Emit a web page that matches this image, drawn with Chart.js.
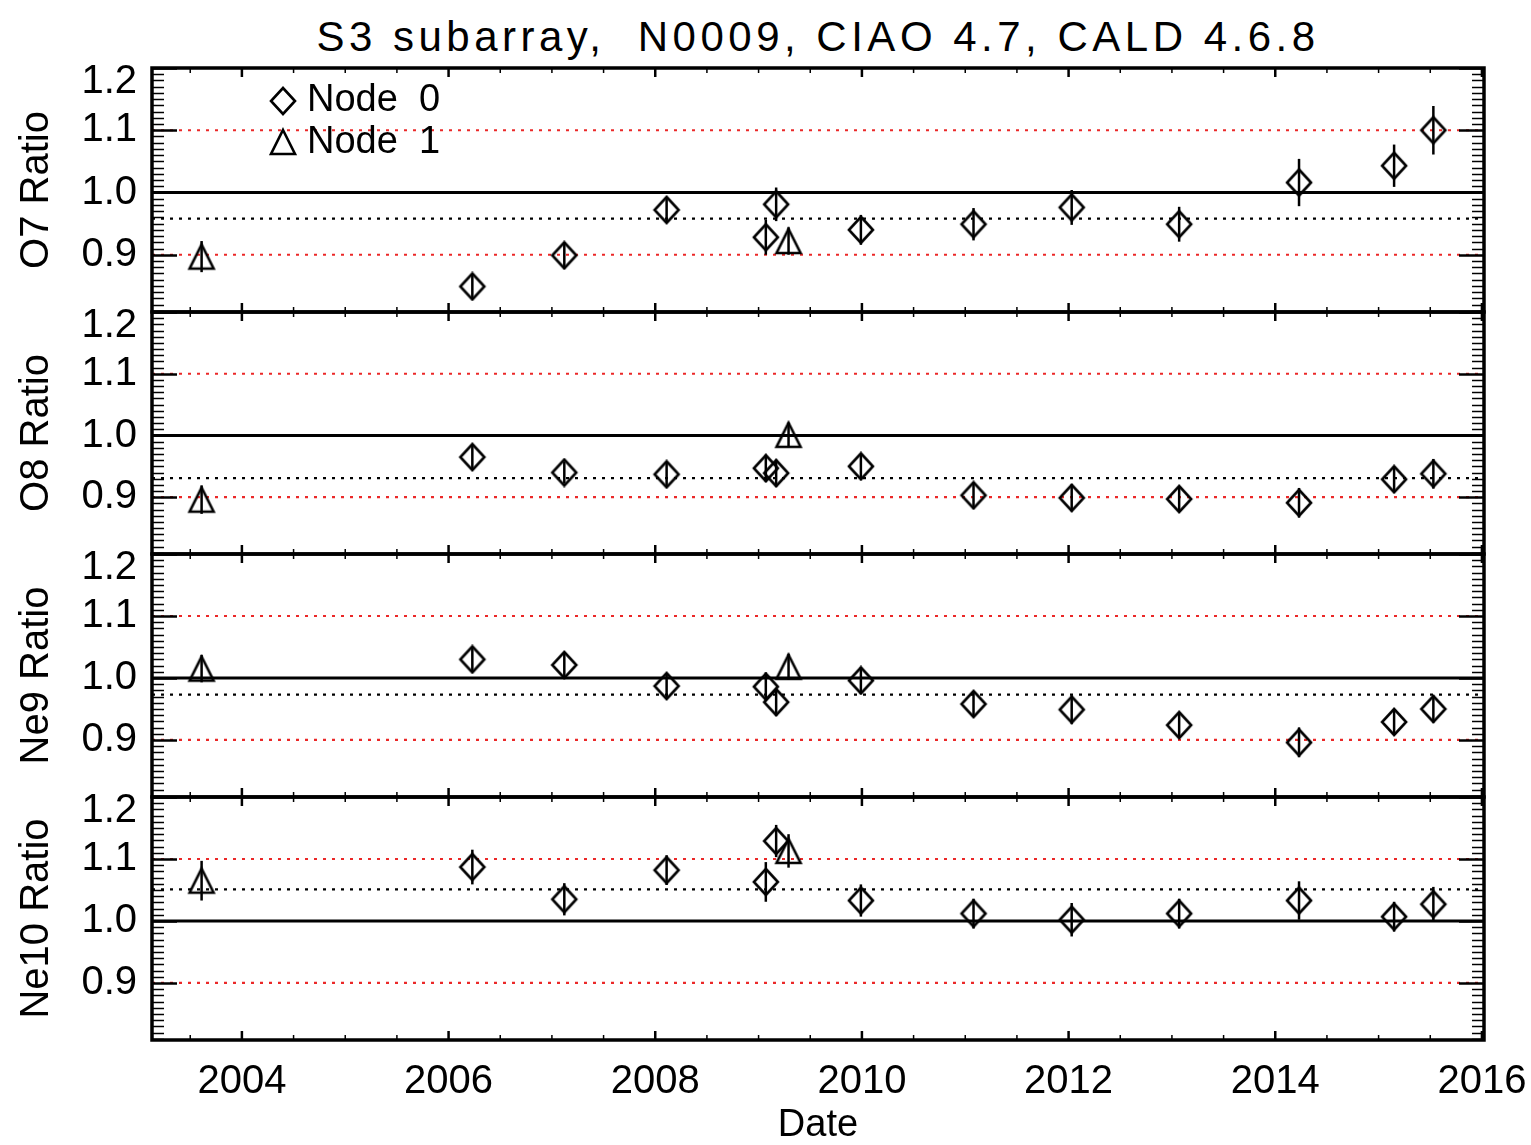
<!DOCTYPE html>
<html>
<head>
<meta charset="utf-8">
<title>S3 subarray, N0009 line ratios</title>
<script src="https://cdn.jsdelivr.net/npm/chart.js"></script>
<style>
  body { margin: 0; background: #fff; }
  #page { position: relative; width: 1531px; height: 1145px; background: #fff; overflow: hidden; }
  #page canvas { position: absolute; left: 0; }
  .title {
    position: absolute; left: 152px; width: 1332px; top: 12px;
    text-align: center; font: 42px 'Liberation Sans', Arial, sans-serif;
    letter-spacing: 4.5px; line-height: 50px; white-space: pre; color: #000;
  }
</style>
</head>
<body>
<div id="page">
  <div class="title">S3 subarray,  N0009, CIAO 4.7, CALD 4.6.8</div>
  <canvas id="o7Chart" width="1531" height="342" style="top:0px"></canvas>
  <canvas id="o8Chart" width="1531" height="302" style="top:282px"></canvas>
  <canvas id="ne9Chart" width="1531" height="303" style="top:524px"></canvas>
  <canvas id="ne10Chart" width="1531" height="378" style="top:767px"></canvas>
</div>

<script>
// observation dates (decimal years)
const node0Dates = [2006.23, 2007.12, 2008.11, 2009.07, 2009.17, 2009.99, 2011.08, 2012.03, 2013.07, 2014.23, 2015.15, 2015.53];
const node1Dates = [2003.61, 2009.29];

// O7 ratio
const o7Node0 = [0.849, 0.899, 0.972, 0.928, 0.981, 0.940, 0.949, 0.976, 0.949, 1.016, 1.043, 1.100];
const o7Node0Err = [0.020, 0.021, 0.020, 0.028, 0.027, 0.024, 0.026, 0.028, 0.028, 0.038, 0.034, 0.039];
const o7Node1 = [0.897, 0.922];
const o7Node1Err = [0.025, 0.022];

// O8 ratio
const o8Node0 = [0.965, 0.940, 0.937, 0.947, 0.939, 0.950, 0.903, 0.899, 0.897, 0.891, 0.929, 0.938];
const o8Node0Err = [0.020, 0.018, 0.020, 0.022, 0.022, 0.019, 0.021, 0.022, 0.020, 0.024, 0.021, 0.024];
const o8Node1 = [0.896, 1.001];
const o8Node1Err = [0.023, 0.020];

// Ne9 ratio
const ne9Node0 = [1.030, 1.021, 0.987, 0.986, 0.961, 0.996, 0.958, 0.949, 0.924, 0.896, 0.929, 0.950];
const ne9Node0Err = [0.020, 0.020, 0.018, 0.023, 0.022, 0.022, 0.021, 0.023, 0.021, 0.024, 0.021, 0.022];
const ne9Node1 = [1.015, 1.018];
const ne9Node1Err = [0.022, 0.021];

// Ne10 ratio
const ne10Node0 = [1.087, 1.035, 1.082, 1.063, 1.129, 1.033, 1.012, 1.002, 1.012, 1.033, 1.007, 1.027];
const ne10Node0Err = [0.028, 0.026, 0.024, 0.032, 0.026, 0.026, 0.024, 0.027, 0.024, 0.031, 0.024, 0.028];
const ne10Node1 = [1.065, 1.113];
const ne10Node1Err = [0.032, 0.027];

// mean ratio of each panel (black dotted line)
const meanRatio = [0.958, 0.931, 0.973, 1.051];

const panelNames = ['O7 Ratio', 'O8 Ratio', 'Ne9 Ratio', 'Ne10 Ratio'];
const legendLabels = ['Node  0', 'Node  1'];
const yTickValues = [0.9, 1.0, 1.1, 1.2];
const xTickValues = [2004, 2006, 2008, 2010, 2012, 2014, 2016];
const redLevels = [0.9, 1.1];
const unityLevel = 1.0;

const xMin = 2003.13, xMax = 2016.02;
const yMin = 0.808, yMax = 1.2;
const FONT = "'Liberation Sans', Arial, sans-serif";

// hollow plot symbols, like IDL psym 4 and 5
function makeMarker(shape) {
    const c = document.createElement('canvas');
    c.width = 30; c.height = 30;
    const g = c.getContext('2d');
    g.strokeStyle = '#000';
    g.lineWidth = 2.6;
    g.beginPath();
    if (shape === 'diamond') {
        g.moveTo(15, 2); g.lineTo(27, 15); g.lineTo(15, 28); g.lineTo(3, 15);
    } else {
        g.moveTo(15, 3); g.lineTo(27, 27); g.lineTo(3, 27);
    }
    g.closePath();
    g.stroke();
    return c;
}
const diamondImg = makeMarker('diamond');
const triangleImg = makeMarker('triangle');

function toPoints(xs, ys) {
    return xs.map((x, i) => ({x: x, y: ys[i]}));
}
function hLine(level) {
    return [{x: xMin, y: level}, {x: xMax, y: level}];
}

// frame, inward ticks and error bars
const framePlugin = {
    id: 'frame',
    afterDatasetsDraw(chart) {
        const ctx = chart.ctx;
        const a = chart.chartArea;
        const xs = chart.scales.x, ys = chart.scales.y;
        ctx.save();
        ctx.strokeStyle = '#000';

        // error bars
        ctx.lineWidth = 2.5;
        chart.data.datasets.forEach(ds => {
            if (!ds.errors) return;
            ds.data.forEach((p, i) => {
                const px = xs.getPixelForValue(p.x);
                ctx.beginPath();
                ctx.moveTo(px, ys.getPixelForValue(p.y - ds.errors[i]));
                ctx.lineTo(px, ys.getPixelForValue(p.y + ds.errors[i]));
                ctx.stroke();
            });
        });

        // y ticks every 0.01, major every 0.1
        for (let k = 81; k <= 120; k++) {
            const py = Math.round(ys.getPixelForValue(k / 100)) + 0.5;
            const len = (k % 10 === 0) ? 25 : 12;
            ctx.lineWidth = (k % 10 === 0) ? 2.5 : 1.5;
            ctx.beginPath();
            ctx.moveTo(a.left, py); ctx.lineTo(a.left + len, py);
            ctx.moveTo(a.right, py); ctx.lineTo(a.right - len, py);
            ctx.stroke();
        }

        // x ticks every half year, major every 2 years
        for (let h = 4007; h <= 4032; h++) {
            const v = h / 2;
            const px = xs.getPixelForValue(v);
            const major = (v % 2 === 0);
            const len = major ? 9 : 5;
            ctx.lineWidth = major ? 2.5 : 1.5;
            ctx.beginPath();
            ctx.moveTo(px, a.top); ctx.lineTo(px, a.top + len);
            ctx.moveTo(px, a.bottom); ctx.lineTo(px, a.bottom - len);
            ctx.stroke();
        }

        ctx.lineWidth = 3.5;
        ctx.strokeRect(a.left, a.top, a.right - a.left, a.bottom - a.top);
        ctx.restore();
    }
};

// legend in the top panel
const nodeLegendPlugin = {
    id: 'nodeLegend',
    afterDraw(chart, args, opts) {
        if (!opts.show) return;
        const ctx = chart.ctx;
        ctx.save();
        ctx.drawImage(diamondImg, 283 - 15, 101 - 15);
        ctx.drawImage(triangleImg, 283 - 15, 142 - 15);
        ctx.fillStyle = '#000';
        ctx.font = '38px ' + FONT;
        ctx.textBaseline = 'middle';
        ctx.fillText(legendLabels[0], 307, 101);
        ctx.fillText(legendLabels[1], 307, 143);
        ctx.restore();
    }
};

function buildPanel(canvasId, idx, n0, n0Err, n1, n1Err, padTop, padBottom, isBottom) {
    const ctx = document.getElementById(canvasId).getContext('2d');
    const datasets = [
        {
            label: 'Node 0',
            data: toPoints(node0Dates, n0),
            errors: n0Err,
            pointStyle: diamondImg,
            pointRadius: 12,
            showLine: false
        },
        {
            label: 'Node 1',
            data: toPoints(node1Dates, n1),
            errors: n1Err,
            pointStyle: triangleImg,
            pointRadius: 12,
            showLine: false
        },
        {
            data: hLine(meanRatio[idx]),
            showLine: true, pointRadius: 0,
            borderColor: '#000', borderWidth: 2.2, borderDash: [3, 6]
        },
        {
            data: hLine(unityLevel),
            showLine: true, pointRadius: 0,
            borderColor: '#000', borderWidth: 3
        }
    ];
    redLevels.forEach(level => {
        datasets.push({
            data: hLine(level),
            showLine: true, pointRadius: 0,
            borderColor: 'rgb(235, 40, 40)', borderWidth: 2.2, borderDash: [3, 6]
        });
    });

    return new Chart(ctx, {
        type: 'scatter',
        data: { datasets: datasets },
        options: {
            responsive: false,
            animation: false,
            events: [],
            layout: { padding: { top: padTop, bottom: padBottom, left: 0, right: 47 } },
            plugins: {
                legend: { display: false },
                tooltip: { enabled: false },
                nodeLegend: { show: idx === 0 }
            },
            scales: {
                x: {
                    type: 'linear',
                    min: xMin,
                    max: xMax,
                    display: isBottom,
                    grid: { display: false, drawTicks: false },
                    border: { display: false },
                    afterBuildTicks: axis => { axis.ticks = xTickValues.map(v => ({value: v})); },
                    afterFit: axis => {
                        axis.height = isBottom ? 105 : 0;
                        axis.paddingLeft = 0;
                        axis.paddingRight = 0;
                    },
                    ticks: {
                        color: '#000',
                        font: { size: 40, family: FONT },
                        padding: 18,
                        maxRotation: 0,
                        autoSkip: false,
                        callback: v => String(v)
                    },
                    title: {
                        display: true,
                        text: 'Date',
                        color: '#000',
                        font: { size: 38, family: FONT, lineHeight: 1 },
                        padding: 0
                    }
                },
                y: {
                    type: 'linear',
                    min: yMin,
                    max: yMax,
                    grid: { display: false, drawTicks: false },
                    border: { display: false },
                    afterBuildTicks: axis => { axis.ticks = yTickValues.map(v => ({value: v})); },
                    afterFit: axis => {
                        axis.width = 152;
                        axis.paddingTop = 0;
                        axis.paddingBottom = 0;
                    },
                    ticks: {
                        color: '#000',
                        font: { size: 40, family: FONT, lineHeight: 0.7 },
                        padding: 15,
                        // top label sits just inside the panel, as in the IDL plot
                        callback: v => (v >= yMax - 1e-9) ? ['', v.toFixed(1)] : v.toFixed(1)
                    },
                    title: {
                        display: true,
                        text: panelNames[idx],
                        color: '#000',
                        font: { size: 40, family: FONT },
                        padding: { top: 13, bottom: 0 }
                    }
                }
            }
        },
        plugins: [framePlugin, nodeLegendPlugin]
    });
}

buildPanel('o7Chart', 0, o7Node0, o7Node0Err, o7Node1, o7Node1Err, 68, 30, false);
buildPanel('o8Chart', 1, o8Node0, o8Node0Err, o8Node1, o8Node1Err, 30, 30, false);
buildPanel('ne9Chart', 2, ne9Node0, ne9Node0Err, ne9Node1, ne9Node1Err, 30, 30, false);
buildPanel('ne10Chart', 3, ne10Node0, ne10Node0Err, ne10Node1, ne10Node1Err, 30, 0, true);
</script>
</body>
</html>
